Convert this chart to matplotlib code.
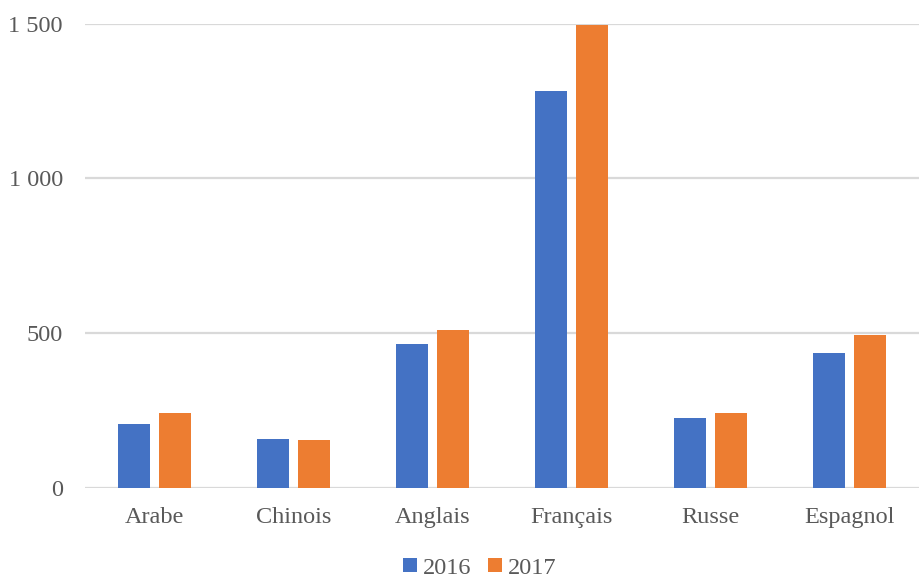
import matplotlib.pyplot as plt
import numpy as np
from matplotlib.ticker import FuncFormatter

langues = ["Arabe", "Chinois", "Anglais", "Français", "Russe", "Espagnol"]
annees = ["2016", "2017"]
v2016 = [205, 157, 464, 1282, 225, 434]
v2017 = [242, 153, 509, 1494, 242, 493]

bleu = "#4472c4"
orange = "#ed7d31"
gris_txt = "#595959"

plt.rcParams["font.family"] = ["Liberation Serif", "DejaVu Serif"]

fig = plt.figure(figsize=(9.19, 5.78), dpi=100)
ax = fig.add_axes([85 / 919, 1 - 487.7 / 578, 1 - 85 / 919, (487.7 - 23.5) / 578])

x = np.arange(len(langues))
w = 0.23
off = 0.148
ax.bar(x - off, v2016, width=w, color=bleu, label=annees[0], zorder=3)
ax.bar(x + off, v2017, width=w, color=orange, label=annees[1], zorder=3)

ax.set_xlim(-0.5, len(langues) - 0.5)
ax.set_ylim(0, 1500)
ax.set_yticks([0, 500, 1000, 1500])
ax.yaxis.set_major_formatter(FuncFormatter(lambda v, p: f"{int(v):,}".replace(",", " ")))
ax.grid(axis="y", color="#d9d9d9", linewidth=1.6, zorder=0)
ax.set_xticks(x)
ax.set_xticklabels(langues)

for s in ax.spines.values():
    s.set_visible(False)
ax.tick_params(axis="both", length=0, labelsize=17.5, labelcolor=gris_txt)
ax.tick_params(axis="y", pad=16)
ax.tick_params(axis="x", pad=14)

leg = fig.legend(loc="center", bbox_to_anchor=(480 / 919, 1 - 568 / 578), ncol=2,
                 frameon=False, fontsize=17.5, handlelength=0.55, handleheight=0.55,
                 handletextpad=0.25, columnspacing=0.7, labelcolor=gris_txt)

fig.savefig("out.png", dpi=100)
